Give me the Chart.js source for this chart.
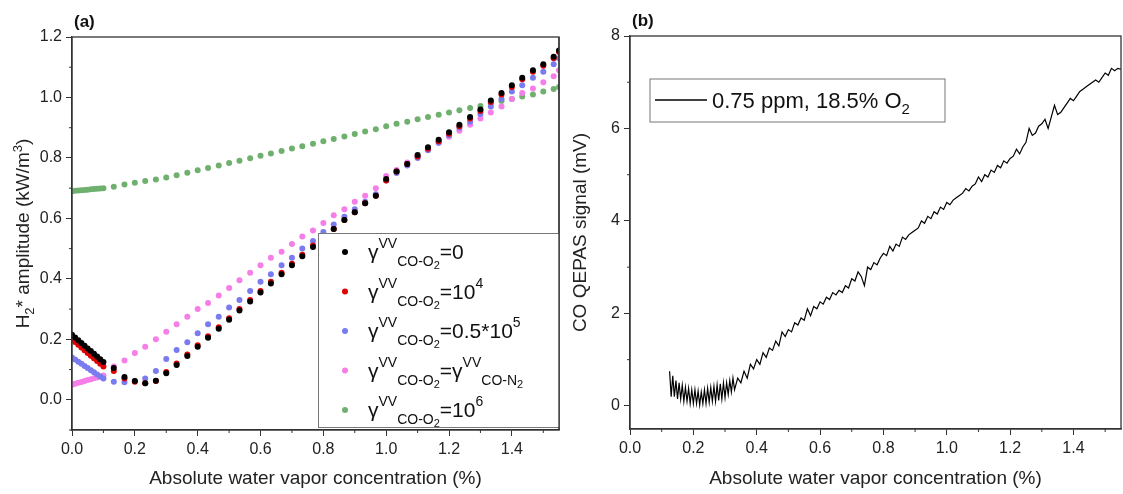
<!DOCTYPE html>
<html lang="en">
<head>
<meta charset="UTF-8">
<title>H2* amplitude and CO QEPAS signal</title>
<script src="https://cdn.jsdelivr.net/npm/chart.js"></script>
<style>
  body { margin: 0; background: #fff; }
  .wrap { position: absolute; top: 0; height: 494px; }
  #wa { left: 0; width: 565px; }
  #wb { left: 565px; width: 558px; }
</style>
</head>
<body>
<div class="wrap" id="wa"><canvas id="chartA"></canvas></div>
<div class="wrap" id="wb"><canvas id="chartB"></canvas></div>
<script>
// ---- panel (a) data ----
const xA = [0,0.01,0.02,0.03,0.04,0.05,0.06,0.07,0.08,0.09,0.1,
  0.133,0.167,0.2,0.233,0.267,0.3,0.333,0.367,0.4,0.433,0.467,0.5,0.533,0.567,0.6,0.633,0.667,0.7,0.733,0.767,0.8,
  0.833,0.867,0.9,0.933,0.967,1.0,1.033,1.067,1.1,1.133,1.167,1.2,1.233,1.267,1.3,1.333,1.367,1.4,1.433,1.467,1.5,1.533,1.55];
const gamma0 = [0.215,0.206,0.197,0.188,0.179,0.170,0.161,0.152,0.143,0.134,0.125,
  0.105,0.075,0.062,0.055,0.063,0.088,0.115,0.145,0.175,0.205,0.235,0.265,0.295,0.325,0.355,0.385,0.415,0.445,0.475,0.505,0.535,
  0.565,0.595,0.62,0.65,0.675,0.73,0.755,0.78,0.81,0.835,0.86,0.885,0.91,0.935,0.96,0.99,1.015,1.04,1.065,1.09,1.11,1.135,1.155];
const gamma1e4 = [0.200,0.191,0.182,0.173,0.164,0.155,0.146,0.137,0.128,0.119,0.110,
  0.095,0.07,0.06,0.055,0.062,0.092,0.12,0.15,0.18,0.21,0.24,0.27,0.3,0.33,0.36,0.39,0.42,0.45,0.48,0.51,0.54,
  0.565,0.595,0.62,0.65,0.675,0.725,0.755,0.78,0.805,0.83,0.855,0.88,0.905,0.93,0.955,0.985,1.01,1.035,1.06,1.085,1.105,1.13,1.15];
const gamma5e4 = [0.140,0.133,0.126,0.119,0.112,0.105,0.098,0.091,0.084,0.077,0.070,
  0.06,0.058,0.062,0.07,0.095,0.135,0.165,0.19,0.22,0.25,0.275,0.305,0.33,0.36,0.39,0.415,0.445,0.47,0.5,0.525,0.555,
  0.58,0.605,0.63,0.655,0.68,0.725,0.75,0.775,0.8,0.825,0.85,0.875,0.9,0.92,0.945,0.97,0.995,1.02,1.04,1.065,1.085,1.11,1.13];
const gammaN2 = [0.050,0.053,0.056,0.059,0.062,0.065,0.068,0.071,0.074,0.077,0.080,
  0.11,0.13,0.155,0.175,0.2,0.225,0.25,0.275,0.3,0.32,0.345,0.37,0.395,0.42,0.445,0.47,0.49,0.515,0.54,0.56,0.585,
  0.61,0.63,0.655,0.675,0.7,0.74,0.76,0.785,0.805,0.83,0.85,0.87,0.89,0.91,0.93,0.95,0.97,0.995,1.015,1.03,1.05,1.07,1.09];
const gamma1e6 = [0.690,0.691,0.692,0.693,0.694,0.695,0.696,0.697,0.698,0.699,0.700,
  0.705,0.712,0.718,0.724,0.729,0.735,0.743,0.751,0.759,0.767,0.775,0.783,0.791,0.799,0.807,0.815,0.823,0.831,0.839,0.847,0.855,
  0.863,0.871,0.879,0.887,0.895,0.905,0.913,0.92,0.928,0.935,0.943,0.95,0.958,0.965,0.972,0.98,0.988,0.995,1.003,1.01,1.02,1.028,1.035];
const xTicksA = [0,0.2,0.4,0.6,0.8,1.0,1.2,1.4];
const yTicksA = [0,0.2,0.4,0.6,0.8,1.0,1.2];

// ---- panel (b) data ----
const xB = [0.125,0.13,0.135,0.14,0.145,0.15,0.155,0.16,0.165,0.17,0.175,0.18,0.185,0.19,0.195,0.2,0.205,0.21,0.215,0.22,0.225,0.23,0.235,0.24,0.245,0.25,0.255,0.26,0.265,0.27,0.275,0.28,0.285,0.29,0.295,0.3,0.305,0.31,0.315,0.32,0.325,0.33,
  0.34,0.35,0.36,0.37,0.38,0.39,0.40,0.41,0.42,0.43,0.44,0.45,0.46,0.47,0.48,0.49,0.50,0.51,0.52,0.53,0.54,0.55,0.56,0.57,0.58,0.59,
  0.60,0.61,0.62,0.63,0.64,0.65,0.66,0.67,0.68,0.69,0.70,0.71,0.72,0.73,0.74,0.75,0.76,0.77,0.78,0.79,
  0.80,0.81,0.82,0.83,0.84,0.85,0.86,0.87,0.88,0.89,0.90,0.91,0.92,0.93,0.94,0.95,0.96,0.97,0.98,0.99,
  1.00,1.01,1.02,1.03,1.04,1.05,1.06,1.07,1.08,1.09,1.10,1.11,1.12,1.13,1.14,1.15,1.16,1.17,1.18,1.19,
  1.20,1.21,1.22,1.23,1.24,1.25,1.26,1.27,1.28,1.29,1.30,1.31,1.32,1.33,1.34,1.35,1.36,1.37,1.38,1.39,
  1.40,1.41,1.42,1.43,1.44,1.45,1.46,1.47,1.48,1.49,1.50,1.51,1.52,1.53,1.54,1.55];
const signalB = [0.75,0.2,0.65,0.2,0.55,0.15,0.5,0.15,0.45,0.1,0.4,0.1,0.38,0.05,0.35,0.05,0.35,0.05,0.32,0.02,0.3,0.05,0.35,0.05,0.38,0.08,0.4,0.1,0.42,0.1,0.45,0.12,0.48,0.15,0.5,0.18,0.5,0.25,0.55,0.3,0.6,0.35,
  0.6,0.5,0.75,0.6,0.9,0.8,1.0,0.9,1.15,1.05,1.25,1.2,1.4,1.3,1.6,1.5,1.65,1.6,1.8,1.75,1.9,1.85,2.1,1.95,2.15,2.1,
  2.25,2.2,2.35,2.3,2.45,2.4,2.5,2.45,2.6,2.55,2.75,2.7,2.9,2.8,2.6,3.0,2.95,3.1,3.05,3.2,
  3.3,3.25,3.45,3.35,3.5,3.45,3.65,3.6,3.7,3.75,3.8,3.85,4.0,3.95,4.1,4.05,4.2,4.15,4.3,4.25,
  4.4,4.35,4.45,4.5,4.55,4.6,4.7,4.65,4.75,4.8,4.95,4.85,5.0,4.95,5.1,5.05,5.2,5.15,5.3,5.25,
  5.35,5.4,5.55,5.45,5.6,5.7,6.0,5.85,5.9,6.05,6.1,6.2,6.0,6.25,6.5,6.3,6.35,6.45,6.55,6.65,
  6.6,6.7,6.8,6.85,6.9,6.95,7.0,7.05,7.0,7.1,7.2,7.15,7.3,7.25,7.3,7.28];
const xTicksB = [0,0.2,0.4,0.6,0.8,1.0,1.2,1.4];
const yTicksB = [0,2,4,6,8];

const FONT = "'Liberation Sans', Arial, sans-serif";
const TXT = '#222';
const FRAME = '#333';

function pts(xs, ys) { return xs.map((x, i) => ({ x: x, y: ys[i] })); }

// box frame, minor ticks and panel label
const framePlugin = {
  id: 'frame',
  afterDraw(chart, args, opts) {
    const { ctx, chartArea: a, scales } = chart;
    ctx.save();
    ctx.strokeStyle = FRAME;
    ctx.lineWidth = 1.3;
    ctx.strokeRect(a.left, a.top, a.right - a.left, a.bottom - a.top);
    ctx.lineWidth = 1;
    const xs = scales.x, ys = scales.y;
    const mx = opts.xMajor, my = opts.yMajor;
    for (let i = 0; i < mx.length; i++) {
      const v = mx[i] + (mx[1] - mx[0]) / 2;
      const p = xs.getPixelForValue(v);
      if (p > a.right) continue;
      ctx.beginPath(); ctx.moveTo(p, a.bottom); ctx.lineTo(p, a.bottom + 3); ctx.stroke();
    }
    for (let i = -1; i < my.length; i++) {
      const v = (i < 0 ? my[0] : my[i]) + (i < 0 ? -1 : 1) * (my[1] - my[0]) / 2;
      const p = ys.getPixelForValue(v);
      if (p < a.top || p > a.bottom) continue;
      ctx.beginPath(); ctx.moveTo(a.left, p); ctx.lineTo(a.left - 3, p); ctx.stroke();
    }
    ctx.fillStyle = '#111';
    ctx.font = 'bold 17px ' + FONT;
    ctx.textBaseline = 'bottom';
    ctx.fillText(opts.label, a.left + 2, a.top - 6);
    ctx.restore();
  }
};

// legend for panel (a) with sub/superscripts
const legendA = {
  id: 'legendA',
  afterDraw(chart) {
    const { ctx, chartArea: a } = chart;
    const bx = 318, by = 233, bw = a.right - bx, bh = 195;
    ctx.save();
    ctx.beginPath(); ctx.rect(bx, by, bw, bh); ctx.clip();
    ctx.fillStyle = '#fff';
    ctx.fillRect(bx, by, bw, bh);
    ctx.strokeStyle = '#777';
    ctx.lineWidth = 1;
    ctx.strokeRect(bx + 0.5, by + 0.5, bw, bh - 1);
    const rows = [
      { c: '#000000', tail: [['=0', 0]] },
      { c: '#e00000', tail: [['=10', 0], ['4', -1]] },
      { c: '#7b7bf0', tail: [['=0.5*10', 0], ['5', -1]] },
      { c: '#f57ee8', tail: [['=\u03b3', 0], ['VV', -1], ['CO-N', 1], ['2', 2]] },
      { c: '#6fb06f', tail: [['=10', 0], ['6', -1]] }
    ];
    rows.forEach((r, i) => {
      const y = by + 19 + i * 39.5;
      ctx.fillStyle = r.c;
      ctx.beginPath(); ctx.arc(bx + 27, y, 3, 0, Math.PI * 2); ctx.fill();
      const segs = [['\u03b3', 0], ['VV', -1], ['CO-O', 1], ['2', 2]].concat(r.tail);
      let x = bx + 50;
      ctx.fillStyle = '#111';
      ctx.textBaseline = 'alphabetic';
      segs.forEach(([t, lvl]) => {
        const size = lvl === 0 ? 21 : (lvl === 2 ? 11 : 14);
        const dy = lvl === 0 ? 7 : (lvl === -1 ? -4 : (lvl === 1 ? 14 : 17));
        ctx.font = size + 'px ' + FONT;
        ctx.fillText(t, x, y + dy);
        x += ctx.measureText(t).width;
      });
    });
    ctx.restore();
    ctx.save();
    ctx.strokeStyle = FRAME; ctx.lineWidth = 1.3;
    ctx.beginPath(); ctx.moveTo(a.right, a.top); ctx.lineTo(a.right, a.bottom); ctx.stroke();
    ctx.restore();
  }
};

const legendB = {
  id: 'legendB',
  afterDraw(chart) {
    const { ctx } = chart;
    const bx = 650 - 565, by = 79, bw = 295, bh = 43;
    ctx.save();
    ctx.fillStyle = '#fff';
    ctx.fillRect(bx, by, bw, bh);
    ctx.strokeStyle = '#777';
    ctx.lineWidth = 1;
    ctx.strokeRect(bx, by, bw, bh);
    ctx.strokeStyle = '#000';
    ctx.lineWidth = 1.3;
    ctx.beginPath(); ctx.moveTo(bx + 5, by + 21); ctx.lineTo(bx + 57, by + 21); ctx.stroke();
    ctx.fillStyle = '#111';
    ctx.font = '22px ' + FONT;
    ctx.textBaseline = 'alphabetic';
    const t = '0.75 ppm, 18.5% O';
    ctx.fillText(t, bx + 62, by + 29);
    const w = ctx.measureText(t).width;
    ctx.font = '15px ' + FONT;
    ctx.fillText('2', bx + 62 + w, by + 35);
    ctx.restore();
  }
};

function axes(xMin, xMax, xTicks, yMin, yMax, yTicks, yFmt, yTitle, yW, xH) {
  const tickFont = { family: FONT, size: 16 };
  return {
    x: {
      type: 'linear', min: xMin, max: xMax,
      afterBuildTicks: s => { s.ticks = xTicks.map(v => ({ value: v })); },
      afterFit: s => { s.height = xH; },
      ticks: { color: TXT, font: tickFont, padding: 4, maxRotation: 0, callback: v => v.toFixed(1) },
      grid: { drawOnChartArea: false, tickLength: 6, color: FRAME, tickColor: FRAME },
      border: { color: FRAME, width: 1.3 },
      title: { display: true, text: 'Absolute water vapor concentration (%)', color: TXT, font: { family: FONT, size: 19 }, padding: { top: 7 } }
    },
    y: {
      type: 'linear', min: yMin, max: yMax,
      afterBuildTicks: s => { s.ticks = yTicks.map(v => ({ value: v })); },
      afterFit: s => { s.width = yW; },
      ticks: { color: TXT, font: tickFont, padding: 4, callback: yFmt },
      grid: { drawOnChartArea: false, tickLength: 6, color: FRAME, tickColor: FRAME },
      border: { color: FRAME, width: 1.3 },
      title: { display: true, text: yTitle, color: TXT, font: { family: FONT, size: 19 }, padding: { bottom: 2 } }
    }
  };
}

const common = { responsive: true, maintainAspectRatio: false, animation: false, events: [] };

const seriesA = [
  ['\u03b3VV CO-O2=0', gamma0, '#000000'],
  ['\u03b3VV CO-O2=10^4', gamma1e4, '#e00000'],
  ['\u03b3VV CO-O2=0.5*10^5', gamma5e4, '#7b7bf0'],
  ['\u03b3VV CO-O2=\u03b3VV CO-N2', gammaN2, '#f57ee8'],
  ['\u03b3VV CO-O2=10^6', gamma1e6, '#6fb06f']
];

// y title for (a) needs sub/superscript: drawn by hand instead of the axis title
const yTitleA = {
  id: 'yTitleA',
  afterDraw(chart) {
    const { ctx, chartArea: a } = chart;
    ctx.save();
    ctx.translate(24, (a.top + a.bottom) / 2);
    ctx.rotate(-Math.PI / 2);
    const segs = [['H', 0], ['2', 1], ['* amplitude (kW/m', 0], ['3', -1], [')', 0]];
    let total = 0;
    segs.forEach(([t, l]) => { ctx.font = (l ? 13 : 19) + 'px ' + FONT; total += ctx.measureText(t).width; });
    let x = -total / 2;
    ctx.fillStyle = TXT;
    ctx.textBaseline = 'middle';
    segs.forEach(([t, l]) => {
      ctx.font = (l ? 13 : 19) + 'px ' + FONT;
      ctx.fillText(t, x, l === 1 ? 6 : (l === -1 ? -6 : 0));
      x += ctx.measureText(t).width;
    });
    ctx.restore();
  }
};

const scalesA = axes(0, 1.55, xTicksA, -0.1, 1.2, yTicksA, v => v.toFixed(1), ' ', 72, 64);
new Chart(document.getElementById('chartA'), {
  type: 'scatter',
  data: {
    datasets: seriesA.map(([label, ys, c]) => ({
      label: label, data: pts(xA, ys), backgroundColor: c, borderColor: c,
      pointRadius: 3, pointBorderWidth: 0
    }))
  },
  options: Object.assign({}, common, {
    layout: { padding: { top: 37, right: 6, left: 0, bottom: 0 } },
    scales: scalesA,
    plugins: { legend: { display: false }, tooltip: { enabled: false }, frame: { label: '(a)', xMajor: xTicksA, yMajor: yTicksA } }
  }),
  plugins: [framePlugin, legendA, yTitleA]
});

const scalesB = axes(0, 1.55, xTicksB, -0.5, 8, yTicksB, v => String(v), 'CO QEPAS signal (mV)', 65, 65);
new Chart(document.getElementById('chartB'), {
  type: 'line',
  data: {
    datasets: [{
      label: '0.75 ppm, 18.5% O2', data: pts(xB, signalB),
      borderColor: '#000', borderWidth: 1.2, pointRadius: 0, tension: 0
    }]
  },
  options: Object.assign({}, common, {
    layout: { padding: { top: 36, right: 2, left: 0, bottom: 0 } },
    scales: scalesB,
    plugins: { legend: { display: false }, tooltip: { enabled: false }, frame: { label: '(b)', xMajor: xTicksB, yMajor: yTicksB } }
  }),
  plugins: [framePlugin, legendB]
});
</script>
</body>
</html>
